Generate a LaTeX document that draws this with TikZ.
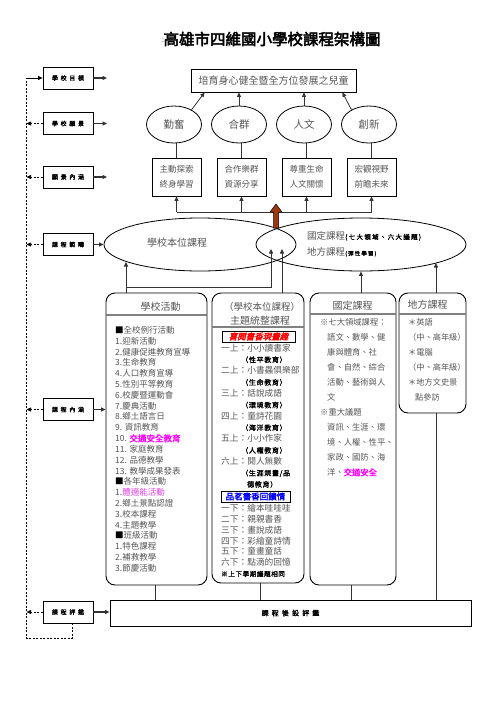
\documentclass[tikz,border=0pt]{standalone}
\usepackage{fontspec}
\setmainfont{Noto Sans CJK TC}
\newfontfamily\cjkt[FakeBold=3]{Noto Sans CJK TC}
\newfontfamily\cjkb[FakeBold=2]{Noto Sans CJK TC}
\newfontfamily\cjkbs[FakeBold=1.5,LetterSpace=45]{Noto Sans CJK TC}
\newfontfamily\cjkbt[FakeBold=1.5,LetterSpace=10]{Noto Sans CJK TC}
\newfontfamily\cjkbw[FakeBold=1.5,LetterSpace=20]{Noto Sans CJK TC}
\newfontfamily\cjkbi[FakeBold=2.5,FakeSlant=0.25]{Noto Sans CJK TC}
\usetikzlibrary{shapes.geometric,arrows.meta}
\definecolor{txt}{HTML}{555555}
\definecolor{ln}{HTML}{333333}
\definecolor{brownarrow}{HTML}{A0380E}
\definecolor{mag}{HTML}{FF00FF}
\definecolor{lmag}{HTML}{E040E0}
\begin{document}
\begin{tikzpicture}[x=1pt,y=-1pt,
  tip/.style={-{Triangle[length=4.5pt,width=4pt]}},
  arr/.style={draw=ln,line width=0.8pt,tip},
  harr/.style={draw=ln,line width=1.1pt,tip},
  conn/.style={draw=ln,line width=0.8pt},
  fb/.style={draw=black,line width=0.7pt,dash pattern=on 2pt off 1.5pt},
  lbl/.style={draw=black,line width=0.8pt,minimum width=50pt,minimum height=22pt,inner sep=0pt,font=\cjkbs\fontsize{6}{7}\selectfont},
  ell/.style={ellipse,draw=black,line width=0.8pt,minimum width=55pt,minimum height=37pt,inner sep=0pt,text=txt,font=\fontsize{10.5}{12}\selectfont},
  sbox/.style={draw=black,line width=0.8pt,minimum width=49pt,minimum height=38pt,inner sep=0pt,align=center,text=txt,font=\fontsize{8.5}{15}\selectfont},
  bigell/.style={ellipse,draw=black,line width=0.8pt,minimum height=53pt,inner sep=0pt},
  rbox/.style={draw=black,line width=0.9pt,rounded corners=9pt,inner sep=0pt},
  sep/.style={draw=gray,line width=1.3pt},
  list/.style={anchor=north west,inner sep=0pt,align=left,text=txt},
]
\fill[white] (0,0) rectangle (496,702);
\useasboundingbox (0,0) rectangle (496,702);

% title
\node[text=gray,font=\fontsize{8}{9}\selectfont] (colon) at (163,40) {:};
\node[font=\cjkt\fontsize{15.5}{17}\selectfont] (title) at (272,39) {高雄市四維國小學校課程架構圖};

% goal
\node[draw=black,line width=0.8pt,minimum width=165pt,minimum height=23pt,inner sep=0pt,text=txt,font=\fontsize{10}{12}\selectfont] (goal) at (273.5,80.5) {培育身心健全暨全方位發展之兒童};

% vision ellipses
\node[ell] (e1) at (174,124.5) {勤奮};
\node[ell] (e2) at (239,124.5) {合群};
\node[ell] (e3) at (304,124.5) {人文};
\node[ell] (e4) at (369,124.5) {創新};

% vision content boxes
\node[sbox] (b1) at (176.5,177) {主動探索\\終身學習};
\node[sbox] (b2) at (241.5,177) {合作樂群\\資源分享};
\node[sbox] (b3) at (306.5,177) {尊重生命\\人文關懷};
\node[sbox] (b4) at (371.5,177) {宏觀視野\\前瞻未來};

\draw[arr] (e1.40) -- ([xshift=14pt]goal.south west);
\draw[arr] (e2.north) -- (e2.north |- goal.south);
\draw[arr] (e3.north) -- (e3.north |- goal.south);
\draw[arr] (e4.140) -- ([xshift=-14pt]goal.south east);
\foreach \b/\e in {b1/e1,b2/e2,b3/e3,b4/e4} \draw[conn] (\b.north) -- (\b.north |- \e.south);

\coordinate (hb) at (0,212);
\draw[conn] (b1.south |- hb) -- (b4.south |- hb);
\foreach \b in {b1,b2,b3,b4} \draw[arr] (\b.south |- hb) -- (\b.south);

% big ellipses
\node[bigell,minimum width=192pt] (E1) at (200,244.5) {};
\node[bigell,minimum width=210pt] (E2) at (361,244.5) {};
\node[text=txt,font=\fontsize{10}{12}\selectfont] (t1) at (177,243) {學校本位課程};
\node[anchor=west,inner sep=0pt] (t2) at (307,236) {\textcolor{txt}{\fontsize{9.5}{11}\selectfont 國定課程}{\cjkbw\fontsize{6.5}{8}\selectfont (七大領域、六大議題)}};
\node[anchor=west,inner sep=0pt] (t3) at (307,252) {\textcolor{txt}{\fontsize{9.5}{11}\selectfont 地方課程}{\cjkbw\fontsize{5.5}{7}\selectfont (彈性學習)}};

% brown arrow
\draw[fill=brownarrow,draw=black,line width=0.5pt] (273.5,228) -- (273.5,212) -- (270,212) -- (276,204) -- (282,212) -- (278.5,212) -- (278.5,228) -- cycle;

% left labels
\node[lbl] (L1) at (68,78) {學校目標};
\node[lbl] (L2) at (68,123.5) {學校願景};
\node[lbl] (L3) at (68,177) {願景內涵};
\node[lbl] (L4) at (68,244.5) {課程範疇};
\node[lbl] (L5) at (68,409.5) {課程內涵};
\node[lbl] (L6) at (68,612) {課程評鑑};

\coordinate (r1) at (107,78);
\coordinate (r2) at (107,123.5);
\coordinate (r3) at (107,177);
\draw[harr] (L1.east) -- (r1);
\draw[harr] (L2.east) -- (r2);
\draw[harr] (L3.east) -- (r3);
\draw[harr] (L4.east) -- (E1.west);

% rounded boxes
\node[rbox,minimum width=101pt,minimum height=292pt] (A) at (156.5,439) {};
\node[rbox,minimum width=92pt,minimum height=290pt] (B) at (258,438) {};
\node[rbox,minimum width=86pt,minimum height=292pt] (C) at (353,439) {};
\node[rbox,minimum width=67pt,minimum height=120pt] (D) at (432.5,353) {};
\draw[sep] (106,315) -- (207,315);
\draw[sep] (212,327) -- (304,327);
\draw[sep] (310,314) -- (396,314);
\draw[sep] (399,314) -- (466,314);

% evaluation box
\node[draw=black,line width=0.8pt,minimum width=361pt,minimum height=26pt,inner sep=0pt,font=\cjkbs\fontsize{7}{8}\selectfont] (F) at (290.5,613) {課程後設評鑑};

\draw[harr] (L5.east) -- (L5.east -| A.west);
\draw[harr] (L6.east) -- (L6.east -| F.west);

% feedback loop
\coordinate (fbtop) at (26.5,78);
\draw[fb] ([xshift=4pt]L6.south) -- ++(0,15) -| (fbtop);
\draw[draw=black,line width=0.8pt,tip] (fbtop) -- (L1.west);
\foreach \L in {L2,L3,L4,L5,L6} \draw[fb,tip] (\L.west) -- (\L.west -| fbtop);

% connectors into ellipses
\coordinate (j1) at (126,287);
\coordinate (e1in) at (126,262);
\coordinate (lensA) at (271,249);
\coordinate (lensB) at (282,249);
\coordinate (e2in) at (436,263);
\draw[conn] ([xshift=-30.5pt]A.north) -- (j1);
\draw[arr] (j1) -- (e1in);
\draw[arr] (j1) -| (lensA);
\draw[arr] ([xshift=24pt]B.north) -- (lensB);
\draw[arr] (C.north -| E2.south) -- (E2.south);
\draw[arr] ([xshift=3.5pt]D.north) -- (e2in);

% connectors down to evaluation
\draw[conn] ([xshift=-1.5pt]A.south) -- ([xshift=-1.5pt]A.south |- F.north);
\draw[conn] ([xshift=2pt]B.south) -- ([xshift=2pt]B.south |- F.north);
\draw[conn] ([xshift=-2pt]C.south) -- ([xshift=-2pt]C.south |- F.north);
\draw[conn] ([xshift=3.5pt]D.south) -- ([xshift=3.5pt]D.south |- F.north);

% box titles
\node[text=txt,font=\fontsize{10}{12}\selectfont] (At) at (160.5,307) {學校活動};
\node[text=txt,font=\fontsize{9.5}{11}\selectfont] (Bt1) at (262,307) {（學校本位課程）};
\node[text=txt,font=\fontsize{10}{12}\selectfont] (Bt2) at (260,321) {主題統整課程};
\node[text=txt,font=\fontsize{10}{12}\selectfont] (Ct) at (352.5,306) {國定課程};
\node[text=txt,font=\fontsize{10}{12}\selectfont] (Dt) at (427.5,305) {地方課程};

% A list
\node[list,font=\fontsize{8.5}{10.82}\selectfont] (Alist) at (115,326) {%
{\color{black}■}全校例行活動\\
1.迎新活動\\
2.健康促進教育宣導\\
3.生命教育\\
4.人口教育宣導\\
5.性別平等教育\\
6.校慶暨運動會\\
7.慶典活動\\
8.鄉土語言日\\
9. 資訊教育\\
10. {\color{mag}\cjkb 交通安全教育}\\
11. 家庭教育\\
12. 品德教學\\
13. 教學成果發表\\
{\color{black}■}各年級活動\\
1.{\color{lmag}體適能活動}\\
2.鄉土景點認證\\
3.校本課程\\
4.主題教學\\
{\color{black}■}班級活動\\
1.特色課程\\
2.補救教學\\
3.節慶活動};

% B labels
\node[draw=black,line width=0.9pt,minimum width=73pt,minimum height=11pt,inner sep=0pt,text=red,font=\cjkbi\fontsize{8.5}{9}\selectfont] (lab1) at (258.5,336.5) {喜閱書香現畫趣};
\node[draw=black,line width=0.9pt,minimum width=69pt,minimum height=11pt,inner sep=0pt,text=blue,font=\cjkb\fontsize{8.5}{9}\selectfont] (lab2) at (255.5,496.5) {品茗書香回饋情};

% B list
\node[list,font=\fontsize{8.7}{11.33}\selectfont] (Blist) at (221,343.5) {%
一上：小小讀書家\\
\hspace*{20pt}{\color{black}\cjkbt\fontsize{7}{11.33}\selectfont （性平教育）}\\
二上：小書蟲俱樂部\\
\hspace*{20pt}{\color{black}\cjkbt\fontsize{7}{11.33}\selectfont （生命教育）}\\
三上：話說成語\\
\hspace*{20pt}{\color{black}\cjkbt\fontsize{7}{11.33}\selectfont （環境教育）}\\
四上：童詩花園\\
\hspace*{20pt}{\color{black}\cjkbt\fontsize{7}{11.33}\selectfont （海洋教育）}\\
五上：小小作家\\
\hspace*{20pt}{\color{black}\cjkbt\fontsize{7}{11.33}\selectfont （人權教育）}\\
六上：閱人無數\\
\hspace*{20pt}{\color{black}\cjkbt\fontsize{7}{11.33}\selectfont （生涯規畫/品}\\
\hspace*{26pt}{\color{black}\cjkbt\fontsize{7}{11.33}\selectfont 德教育）}};
\node[list,font=\fontsize{8.7}{10.8}\selectfont] (Blist2) at (221,504) {%
一下：繪本哇哇哇\\
二下：親親書香\\
三下：畫說成語\\
四下：彩繪童詩情\\
五下：童畫童話\\
六下：點滴的回憶\\
{\color{black}\cjkbt\fontsize{6.5}{10.8}\selectfont ※上下學期議題相同}};

% C list
\node[list,font=\fontsize{8.3}{15}\selectfont] (Clist) at (320,318.3) {%
※七大領域課程：\\
\hspace*{7pt}語文、數學、健\\
\hspace*{7pt}康與體育、社\\
\hspace*{7pt}會、自然、綜合\\
\hspace*{7pt}活動、藝術與人\\
\hspace*{7pt}文\\
※重大議題\\
\hspace*{7pt}資訊、生涯、環\\
\hspace*{7pt}境、人權、性平、\\
\hspace*{7pt}家政、國防、海\\
\hspace*{7pt}洋、{\color{mag}\cjkb 交通安全}};

% D list
\node[list,font=\fontsize{8.2}{15}\selectfont] (Dlist) at (408,318.3) {%
＊英語\\
（中、高年級）\\
＊電腦\\
（中、高年級）\\
＊地方文史景\\
\hspace*{7pt}點參訪};
\end{tikzpicture}
\end{document}
